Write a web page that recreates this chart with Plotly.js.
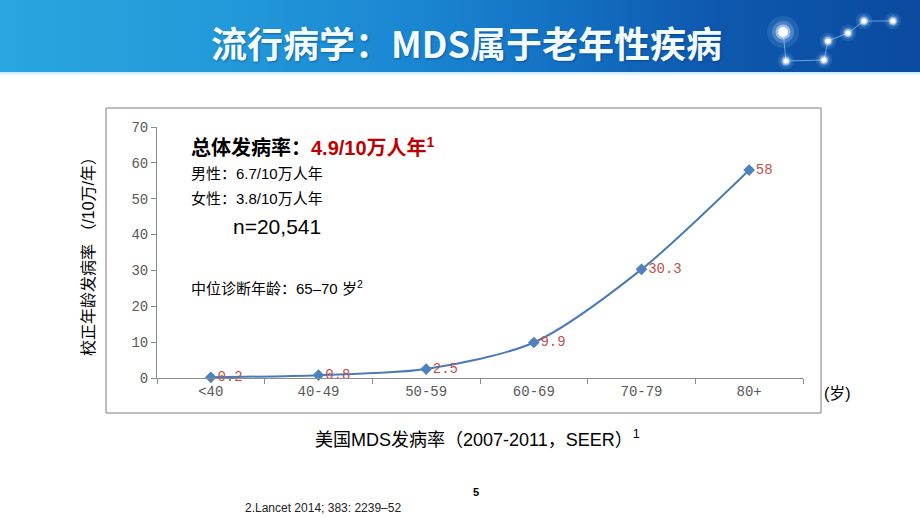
<!DOCTYPE html>
<html>
<head>
<meta charset="utf-8">
<script src="https://cdn.plot.ly/plotly-3.0.1.min.js"></script>
<style>
  html, body { margin:0; padding:0; background:#ffffff; }
  #wrap { position:relative; width:920px; height:518px; overflow:hidden; background:#ffffff; }
  #banner { position:absolute; left:0; top:0; width:920px; height:72px;
    background: linear-gradient(90deg, #2aa5de 0%, #2299d9 25%, #1a86d2 45%, #136fc2 62%, #0d58ae 78%, #0a4a9f 100%); }
  #bline { position:absolute; left:0; top:72px; width:920px; height:4px;
    background: linear-gradient(180deg, #bfeaf9 0%, #e6f7fd 60%, #ffffff 100%); }
  #chart { position:absolute; left:0; top:0; width:920px; height:518px; }
</style>
</head>
<body>
<div id="wrap">
  <div id="banner"></div>
  <div id="bline"></div>
  <div id="chart"></div>
</div>
<script>
// ---- data ----
const categories = ["<40", "40-49", "50-59", "60-69", "70-79", "80+"];
const incidence = [0.2, 0.8, 2.5, 9.9, 30.3, 58];
const yTicks = [0, 10, 20, 30, 40, 50, 60, 70];

// ---- geometry helpers (plot area: x 157..803, y 127..378) ----
const L = 157, R = 803, T = 127, B = 378;
const px = x => (x - L) / (R - L);
const py = y => (B - y) / (B - T);

const cjk = "'Liberation Sans', 'Noto Sans CJK SC', sans-serif";
const mono = "'Liberation Mono', monospace";

const trace = {
  x: categories,
  y: incidence,
  type: "scatter",
  mode: "lines+markers+text",
  line: { color: "#4a7bb7", width: 2, shape: "spline", smoothing: 0.8 },
  marker: { symbol: "diamond", size: 9, color: "#4f81bd" },
  text: incidence.map(v => String(v)),
  textposition: "middle right",
  textfont: { family: mono, size: 14, color: "#c0504d" },
  cliponaxis: false,
  hoverinfo: "skip"
};

// decorative constellation in header
const stars = [[783,32,5],[786,61,2.6],[824,60,2.6],[828,41,2.6],[848,33,2.6],[864,21,2.6],[893,21,2.6]];
const links = [[0,1],[1,2],[2,3],[3,4],[4,5],[5,6]];
const shapes = [];
links.forEach(([a,b]) => shapes.push({
  type:"line", xref:"paper", yref:"paper",
  x0:px(stars[a][0]), y0:py(stars[a][1]), x1:px(stars[b][0]), y1:py(stars[b][1]),
  line:{color:"rgba(170,215,255,0.6)", width:1}
}));
stars.forEach(([x,y,r]) => {
  [[3.2,"rgba(180,220,255,0.12)"],[2.2,"rgba(200,230,255,0.25)"],[1.5,"rgba(225,242,255,0.55)"],[1,"#ffffff"]].forEach(([k,c]) => {
    shapes.push({ type:"circle", xref:"paper", yref:"paper",
      x0:px(x-r*k), x1:px(x+r*k), y0:py(y+r*k), y1:py(y-r*k),
      fillcolor:c, line:{width:0, color:"rgba(0,0,0,0)"} });
  });
});
// chart frame
shapes.push({ type:"rect", xref:"paper", yref:"paper",
  x0:px(106), x1:px(821), y0:py(413), y1:py(108),
  line:{color:"#7f7f7f", width:1}, fillcolor:"rgba(0,0,0,0)" });

function ann(text, x, y, size, opts) {
  return Object.assign({
    text: text, xref:"paper", yref:"paper", x:px(x), y:py(y),
    xanchor:"left", yanchor:"middle", showarrow:false,
    font:{ family:cjk, size:size, color:"#000000" }
  }, opts || {});
}

const annotations = [
  ann("<b>流行病学：MDS属于老年性疾病</b>", 466, 42, 36, {
    xanchor:"center",
    font:{ family:"'Noto Sans CJK SC', sans-serif", size:36, color:"#f2fbff", shadow:"1px 1px 2px rgba(0,40,90,0.45)" }
  }),
  ann("<b>总体发病率：<span style='color:#c00000'>4.9/10万人年<sup>1</sup></span></b>", 189, 146, 20),
  ann("男性：6.7/10万人年", 189, 173, 15),
  ann("女性：3.8/10万人年", 189, 198, 15),
  ann("n=20,541", 231, 226, 21),
  ann("中位诊断年龄：65–70 岁<sup>2</sup>", 189, 287, 15),
  ann("(岁)", 822, 393, 16),
  ann("美国MDS发病率（2007-2011，SEER）<sup>1</sup>", 313, 438, 18),
  ann("<b>5</b>", 476, 492, 11, { xanchor:"center" }),
  ann("2.Lancet 2014; 383: 2239–52", 243, 508, 12, { font:{ family:cjk, size:12, color:"#222222" } })
];

const layout = {
  width: 920, height: 518,
  margin: { l: L, r: 920 - R, t: T, b: 518 - B, pad: 0 },
  paper_bgcolor: "rgba(0,0,0,0)",
  plot_bgcolor: "rgba(0,0,0,0)",
  showlegend: false,
  xaxis: {
    type: "category",
    range: [-0.5, categories.length - 0.5],
    showgrid: false, zeroline: false,
    showline: true, linecolor: "#8c8c8c", linewidth: 1,
    ticks: "outside", tickson: "boundaries", ticklen: 5, tickcolor: "#8c8c8c",
    tickfont: { family: mono, size: 14, color: "#595959" },
    fixedrange: true
  },
  yaxis: {
    range: [0, 70],
    tickvals: yTicks,
    showgrid: false, zeroline: false,
    showline: true, linecolor: "#8c8c8c", linewidth: 1,
    ticks: "outside", ticklen: 5, tickcolor: "#8c8c8c",
    tickfont: { family: mono, size: 14, color: "#595959" },
    title: { text: "校正年龄发病率 （/10万/年）", standoff: 32,
             font: { family: cjk, size: 16, color: "#000000" } },
    automargin: false,
    fixedrange: true
  },
  shapes: shapes,
  annotations: annotations
};

Plotly.newPlot("chart", [trace], layout, { displayModeBar: false, staticPlot: true });
</script>
</body>
</html>
